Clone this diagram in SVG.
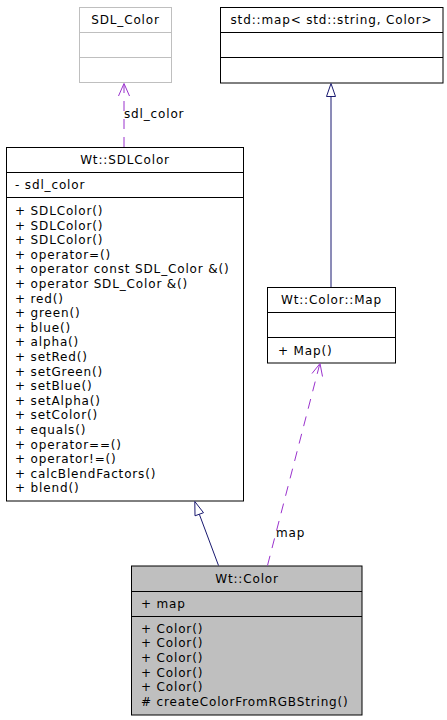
<svg xmlns="http://www.w3.org/2000/svg" width="447" height="720" viewBox="0 0 447 720">
<style>
text{font-family:"DejaVu Sans","Liberation Sans",sans-serif;font-size:12px;letter-spacing:0.85px;fill:#000}
.t{text-anchor:middle}
.box{fill:#fff;stroke:#000;stroke-width:1}
.gbox{fill:#fff;stroke:#bfbfbf;stroke-width:1}
.cur{fill:#bfbfbf;stroke:#000;stroke-width:1}
.inh{fill:none;stroke:#191970;stroke-width:1}
.tri{fill:#fff;stroke:#191970;stroke-width:1}
.use{fill:none;stroke:#9a32cd;stroke-width:1;stroke-dasharray:10,8}
.vee{fill:none;stroke:#9a32cd;stroke-width:1}
</style>
<rect width="447" height="720" fill="#fff"/>
<g id="SDL_Color">
<rect class="gbox" x="79.5" y="7.5" width="92" height="75"/>
<line class="gbox" x1="79.5" y1="32.5" x2="171.5" y2="32.5"/>
<line class="gbox" x1="79.5" y1="57.5" x2="171.5" y2="57.5"/>
<text class="t" x="125.5" y="24">SDL_Color</text>
</g>
<g id="std_map">
<rect class="box" x="220.5" y="7.5" width="222.5" height="75.5"/>
<line class="box" x1="220.5" y1="32.5" x2="443" y2="32.5"/>
<line class="box" x1="220.5" y1="57.5" x2="443" y2="57.5"/>
<text class="t" x="331.5" y="24">std::map&lt; std::string, Color&gt;</text>
</g>
<g id="Wt_SDLColor">
<rect class="box" x="6.5" y="147.5" width="237" height="353.5"/>
<line class="box" x1="6.5" y1="172.5" x2="243.5" y2="172.5"/>
<line class="box" x1="6.5" y1="197.5" x2="243.5" y2="197.5"/>
<text class="t" x="125" y="164">Wt::SDLColor</text>
<text x="15" y="188.5">- sdl_color</text>
<text x="15" y="215">+ SDLColor()</text>
<text x="15" y="229.6">+ SDLColor()</text>
<text x="15" y="244.2">+ SDLColor()</text>
<text x="15" y="258.8">+ operator=()</text>
<text x="15" y="273.4">+ operator const SDL_Color &amp;()</text>
<text x="15" y="288">+ operator SDL_Color &amp;()</text>
<text x="15" y="302.6">+ red()</text>
<text x="15" y="317.2">+ green()</text>
<text x="15" y="331.8">+ blue()</text>
<text x="15" y="346.4">+ alpha()</text>
<text x="15" y="361">+ setRed()</text>
<text x="15" y="375.6">+ setGreen()</text>
<text x="15" y="390.2">+ setBlue()</text>
<text x="15" y="404.8">+ setAlpha()</text>
<text x="15" y="419.4">+ setColor()</text>
<text x="15" y="434">+ equals()</text>
<text x="15" y="448.6">+ operator==()</text>
<text x="15" y="463.2">+ operator!=()</text>
<text x="15" y="477.8">+ calcBlendFactors()</text>
<text x="15" y="492.4">+ blend()</text>
</g>
<g id="Wt_Color_Map">
<rect class="box" x="267.5" y="287.5" width="128" height="75.5"/>
<line class="box" x1="267.5" y1="312.5" x2="395.5" y2="312.5"/>
<line class="box" x1="267.5" y1="337.5" x2="395.5" y2="337.5"/>
<text class="t" x="331.5" y="304">Wt::Color::Map</text>
<text x="278" y="355">+ Map()</text>
</g>
<g id="Wt_Color">
<rect class="cur" x="131.5" y="566" width="230.5" height="149"/>
<line class="box" x1="131.5" y1="591.5" x2="362" y2="591.5"/>
<line class="box" x1="131.5" y1="616.5" x2="362" y2="616.5"/>
<text class="t" x="247" y="582.7">Wt::Color</text>
<text x="141" y="608.3">+ map</text>
<text x="141" y="632.7">+ Color()</text>
<text x="141" y="647.3">+ Color()</text>
<text x="141" y="661.9">+ Color()</text>
<text x="141" y="676.5">+ Color()</text>
<text x="141" y="691.1">+ Color()</text>
<text x="141" y="706.2"># createColorFromRGBString()</text>
</g>
<g id="connectors">
<line class="use" x1="124" y1="147" x2="124" y2="85"/>
<polyline class="vee" points="118.5,96 124,83.5 129.5,96"/>
<text x="124" y="118">sdl_color</text>
<line class="inh" x1="331" y1="287" x2="331" y2="96.5"/>
<polygon class="tri" points="331,83.5 335.5,96.5 326.5,96.5"/>
<line class="inh" x1="218.5" y1="565.5" x2="199.3" y2="514.2"/>
<polygon class="tri" points="194.8,501.5 203.5,512.7 195,515.8"/>
<line class="use" x1="267.5" y1="565.5" x2="319.5" y2="365"/>
<polyline class="vee" points="312,373.5 320,363.5 322.5,376.5"/>
<text x="276" y="536.7">map</text>
</g>
</svg>
